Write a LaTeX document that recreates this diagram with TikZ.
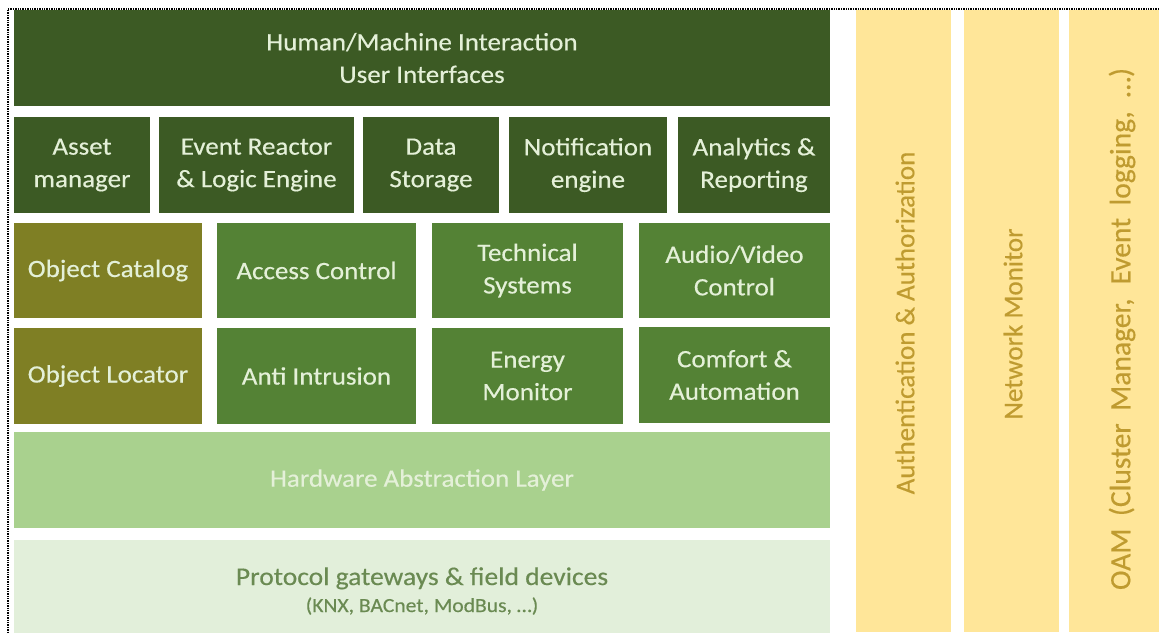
\documentclass[tikz,border=0pt]{standalone}
\usepackage{fontspec}
\setmainfont{Carlito}
\newfontfamily\widefont{Carlito}[FakeStretch=1.08, FakeBold=0.4]
\newfontfamily\sidefont{Carlito}[FakeBold=0.4]
\definecolor{cDark}{HTML}{3C5A24}
\definecolor{cMid}{HTML}{548235}
\definecolor{cOlive}{HTML}{7F7F24}
\definecolor{cHal}{HTML}{A9D18E}
\definecolor{cProto}{HTML}{E2EFDA}
\definecolor{cPillar}{HTML}{FFE699}
\definecolor{cGold}{HTML}{BF9B30}
\definecolor{cCream}{HTML}{E4F0D8}
\definecolor{cProtoText}{HTML}{6A8A52}
\tikzset{
  layer/.style={anchor=north west, inner sep=0pt, outer sep=0pt, align=center,
    font=\widefont\fontsize{25}{32.5}\selectfont, text=cCream, minimum height=96pt},
  darkbox/.style={layer, fill=cDark},
  midbox/.style={layer, fill=cMid},
  olivebox/.style={layer, fill=cOlive},
  halbox/.style={layer, fill=cHal},
  protobox/.style={layer, fill=cProto},
  prototext/.style={anchor=base, inner sep=0pt, text=cProtoText},
  pillar/.style={anchor=north west, inner sep=0pt, outer sep=0pt, fill=cPillar,
    minimum height=622pt, minimum width=95pt},
  pillartext/.style={rotate=90, inner sep=0pt, text=cGold,
    font=\sidefont\fontsize{27}{32}\selectfont},
  frame/.style={line width=1.4pt, dash pattern=on 1.4pt off 1pt}
}
\begin{document}
\begin{tikzpicture}[x=1pt, y=-1pt]
\useasboundingbox (0,0) rectangle (1159,632);
\fill[white] (0,0) rectangle (1159,632);
\begin{scope}
\clip (0,0) rectangle (1159,632);

% top layer
\node[darkbox, minimum width=816pt] (hmi) at (14,10) {Human/Machine Interaction\\User Interfaces};

% service engines
\node[darkbox, minimum width=136pt] (asset) at (14,117) {Asset\\manager};
\node[darkbox, minimum width=195pt] (event) at (159,117) {Event Reactor\\\& Logic Engine};
\node[darkbox, minimum width=136pt] (data) at (363,117) {Data\\Storage};
\node[darkbox, minimum width=158pt] (notif) at (509,117) {Notification\\engine};
\node[darkbox, minimum width=152pt] (analytics) at (678,117) {Analytics \&\\Reporting};

% application modules
\node[olivebox, minimum width=188pt, minimum height=95pt] (catalog) at (14,223) {Object Catalog};
\node[midbox, minimum width=199pt, minimum height=95pt] (access) at (217,223) {Access Control};
\node[midbox, minimum width=191pt, minimum height=95pt] (tech) at (432,223) {Technical\\Systems};
\node[midbox, minimum width=191pt, minimum height=95pt] (av) at (639,223) {Audio/Video\\Control};

\node[olivebox, minimum width=188pt] (locator) at (14,328) {Object Locator};
\node[midbox, minimum width=199pt] (intrusion) at (217,328) {Anti Intrusion};
\node[midbox, minimum width=191pt] (energy) at (432,328) {Energy\\Monitor};
\node[midbox, minimum width=191pt] (comfort) at (639,327) {Comfort \&\\Automation};

% lower layers
\node[halbox, minimum width=816pt] (hal) at (14,432) {Hardware Abstraction Layer};
\node[protobox, minimum width=816pt] (proto) at (14,540) {};
\node[prototext, font=\widefont\fontsize{25.5}{30}\selectfont] (protomain) at (proto.north |- 0,585) {Protocol gateways \& field devices};
\node[prototext, font=\widefont\fontsize{20}{22}\selectfont] (protosub) at (proto.north |- 0,612) {(KNX, BACnet, ModBus, …)};

% cross-cutting pillars
\node[pillar] (auth) at (856,10) {};
\node[pillar] (net) at (964,10) {};
\node[pillar] (oam) at (1069,10) {};
\node[pillartext] (authtext) at (905,323) {Authentication \& Authorization};
\node[pillartext] (nettext) at (1013,324) {Network Monitor};
\node[pillartext, font=\sidefont\fontsize{29.5}{34}\selectfont] (oamtext) at (1122,329) {\makebox[522pt][s]{OAM (Cluster Manager, Event logging, …)}};
\end{scope}

% dotted frame
\coordinate (frameTR) at (1159,9);
\coordinate (frameTL) at (8,9);
\coordinate (frameBL) at (8,632);
\draw[frame] (frameTR) -- (frameTL) -- (frameBL);
\end{tikzpicture}
\end{document}
